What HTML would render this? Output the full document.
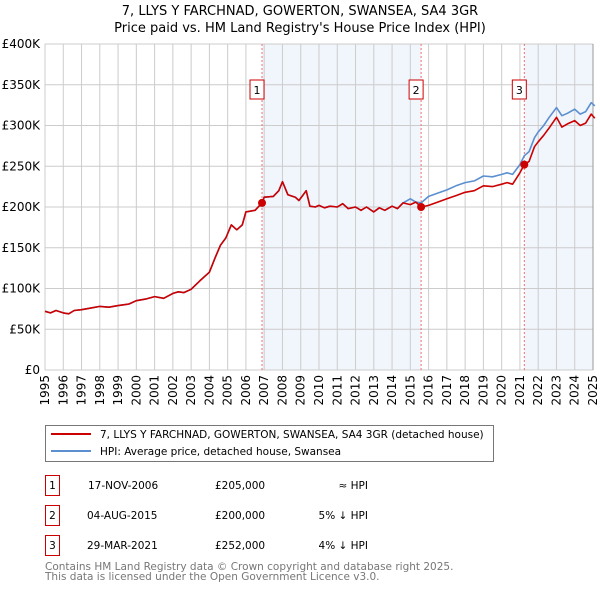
<!DOCTYPE html>
<html><head><meta charset="utf-8"><style>
body{margin:0;background:#fff;width:600px;height:590px;overflow:hidden;font-family:"DejaVu Sans","Liberation Sans",sans-serif}
svg text{font-family:"DejaVu Sans","Liberation Sans",sans-serif}
</style></head><body>
<svg id="chart" width="600" height="590">
<text x="300" y="15" text-anchor="middle" font-size="13" fill="#000">7, LLYS Y FARCHNAD, GOWERTON, SWANSEA, SA4 3GR</text>
<text x="300" y="32" text-anchor="middle" font-size="13" fill="#000">Price paid vs. HM Land Registry's House Price Index (HPI)</text>
<g id="plot"></g>
<rect x="45.5" y="425.5" width="448" height="36" fill="#fff" stroke="#777"/>
<line x1="51" y1="434" x2="91" y2="434" stroke="#cc0000" stroke-width="2"/>
<text x="100" y="438" font-size="10.5">7, LLYS Y FARCHNAD, GOWERTON, SWANSEA, SA4 3GR (detached house)</text>
<line x1="51" y1="451" x2="91" y2="451" stroke="#5b8fd0" stroke-width="2"/>
<text x="100" y="455" font-size="10.5">HPI: Average price, detached house, Swansea</text>
<g font-size="10.5">
<rect x="45.5" y="475.5" width="14" height="20" fill="none" stroke="#c00"/><text x="52.5" y="489" text-anchor="middle">1</text>
<text x="88" y="489">17-NOV-2006</text><text x="215" y="489">£205,000</text><text x="368" y="489" text-anchor="end">≈ HPI</text>
<rect x="45.5" y="505.5" width="14" height="20" fill="none" stroke="#c00"/><text x="52.5" y="519" text-anchor="middle">2</text>
<text x="87" y="519">04-AUG-2015</text><text x="215" y="519">£200,000</text><text x="368" y="519" text-anchor="end">5% ↓ HPI</text>
<rect x="45.5" y="535.5" width="14" height="20" fill="none" stroke="#c00"/><text x="52.5" y="549" text-anchor="middle">3</text>
<text x="87" y="549">29-MAR-2021</text><text x="215" y="549">£252,000</text><text x="368" y="549" text-anchor="end">4% ↓ HPI</text>
</g>
<text x="45" y="570" font-size="10.5" fill="#777">Contains HM Land Registry data © Crown copyright and database right 2025.</text>
<text x="45" y="580" font-size="10.5" fill="#777">This data is licensed under the Open Government Licence v3.0.</text>
</svg>
<script>
const years=[1995,1996,1997,1998,1999,2000,2001,2002,2003,2004,2005,2006,2007,2008,2009,2010,2011,2012,2013,2014,2015,2016,2017,2018,2019,2020,2021,2022,2023,2024,2025];
const yTicks=[0,50000,100000,150000,200000,250000,300000,350000,400000];
const yLabels=["£0","£50K","£100K","£150K","£200K","£250K","£300K","£350K","£400K"];
const dates=[1995,1995.3,1995.6,1996,1996.3,1996.6,1997,1997.5,1998,1998.5,1999,1999.3,1999.6,2000,2000.5,2001,2001.5,2002,2002.3,2002.6,2003,2003.5,2004,2004.3,2004.6,2004.9,2005.2,2005.5,2005.8,2006,2006.5,2006.88,2007,2007.5,2007.8,2008,2008.3,2008.7,2008.9,2009.1,2009.3,2009.5,2009.8,2010,2010.3,2010.6,2011,2011.3,2011.6,2012,2012.3,2012.6,2013,2013.3,2013.6,2014,2014.3,2014.6,2015,2015.3,2015.59,2016,2016.5,2017,2017.5,2018,2018.5,2019,2019.5,2020,2020.3,2020.6,2021,2021.24,2021.5,2021.8,2022,2022.3,2022.6,2023,2023.3,2023.6,2024,2024.3,2024.6,2024.9,2025.1];
const hpi=[72,70,73,70,69,73,74,76,78,77,79,80,81,85,87,90,88,94,96,95,99,110,120,137,153,162,178,172,178,194,196,205,212,213,220,231,215,212,208,214,220,201,200,202,199,201,200,204,198,200,196,200,194,199,196,201,198,205,210,206,205,213,217,221,226,230,232,238,237,240,242,240,252,263,268,285,292,300,310,322,312,315,320,314,317,328,324];
const price=[72,70,73,70,69,73,74,76,78,77,79,80,81,85,87,90,88,94,96,95,99,110,120,137,153,162,178,172,178,194,196,205,212,213,220,231,215,212,208,214,220,201,200,202,199,201,200,204,198,200,196,200,194,199,196,201,198,205,203,206,200,202,206,210,214,218,220,226,225,228,230,228,242,252,256,274,280,288,297,310,298,302,306,300,303,314,309];
const sales=[[2006.88,205000,"1"],[2015.59,200000,"2"],[2021.24,252000,"3"]];
const X0=45,X1=593,Y0=370,Y1=44;
const xs=t=>X0+(t-1995)/(30)*(X1-X0);
const ys=v=>Y0-v/400000*(Y0-Y1);
const NS="http://www.w3.org/2000/svg";
const g=document.getElementById('plot');
function mk(tag,attrs,parent){const e=document.createElementNS(NS,tag);for(const k in attrs)e.setAttribute(k,attrs[k]);(parent||g).appendChild(e);return e;}
let s=mk('rect',{x:xs(sales[0][0]),y:Y1,width:xs(sales[1][0])-xs(sales[0][0]),height:Y0-Y1,fill:'#eef2fb',opacity:0.8});


s=mk('rect',{x:xs(sales[2][0]),y:Y1,width:X1-xs(sales[2][0]),height:Y0-Y1,fill:'#eef2fb',opacity:0.8});


years.forEach(y=>{
 const l=mk('line',{x1:xs(y),x2:xs(y),y1:Y1,y2:Y0,stroke:'#ccc','stroke-width':1});
 
 
 const t=mk('text',{x:0,y:0,'font-size':12,'text-anchor':'end',transform:`translate(${xs(y)+4},${Y0+5}) rotate(-90)`});
 t.textContent=y;
 
 
});
yTicks.forEach((v,i)=>{
 const l=mk('line',{x1:X0,x2:X1,y1:ys(v),y2:ys(v),stroke:'#ccc','stroke-width':1});
 
 
 const t=mk('text',{x:40,y:ys(v)+4,'font-size':12,'text-anchor':'end'});
 t.textContent=yLabels[i];
 
 
});
const r=mk('line',{x1:X1,x2:X1,y1:Y1,y2:Y0,stroke:'#999'});


sales.forEach(sl=>{
 const l=mk('line',{x1:xs(sl[0]),x2:xs(sl[0]),y1:Y1,y2:Y0,stroke:'#f07070','stroke-dasharray':'2,2'});
 
 
});
function line(arr,color,name){
 const d=arr.map((v,i)=>(i?'L':'M')+xs(dates[i]).toFixed(1)+','+ys(v*1000).toFixed(1)).join('');
 const p=mk('path',{d:d,fill:'none',stroke:color,'stroke-width':1.6,'stroke-linejoin':'round'});
 
 
}
line(hpi,'#5b8fd0','hpi-line');
line(price,'#cc0000','price-line');
sales.forEach(sl=>{
 const c=mk('circle',{cx:xs(sl[0]),cy:ys(sl[1]),r:4,fill:'#cc0000'});
 
 
 const b=mk('rect',{x:xs(sl[0])-12,y:80,width:14,height:19,fill:'#fff',stroke:'#c00'});
 
 
 const t=mk('text',{x:xs(sl[0])-5,y:94,'font-size':11,'text-anchor':'middle'});
 t.textContent=sl[2];
 
 
});
</script>
</body></html>
